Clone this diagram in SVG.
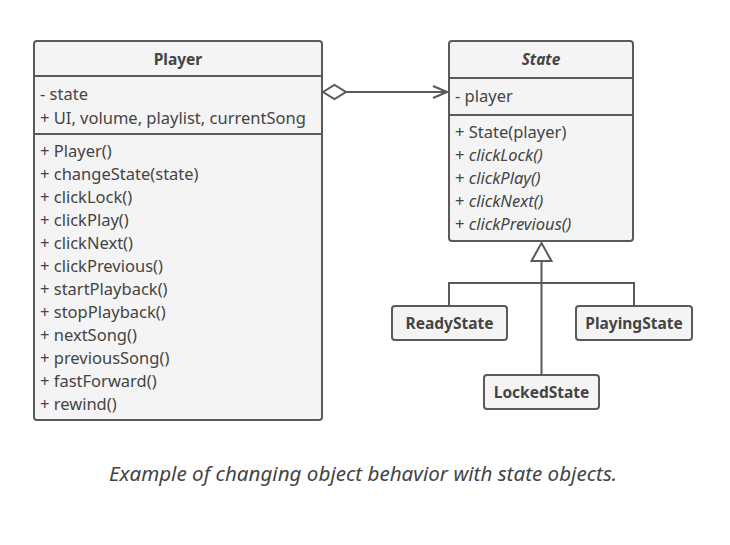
<svg xmlns="http://www.w3.org/2000/svg" width="730" height="545" viewBox="0 0 730 545">
<style>
.box{fill:#f4f4f4;stroke:#5a5a5a;stroke-width:2}
.ln{stroke:#5a5a5a;stroke-width:2;fill:none}
text{font-family:"Noto Sans","Liberation Sans",sans-serif;fill:#444;font-size:16.5px}
.b{font-weight:bold;text-anchor:middle;font-size:15.5px}
.i{font-style:italic}
.cap{font-size:20.6px;font-style:italic;text-anchor:middle;fill:#444}
</style>
<defs>
<marker id="open" markerWidth="16" markerHeight="14" refX="15" refY="7" orient="auto" markerUnits="userSpaceOnUse">
<path d="M1,1 L15,7 L1,13" fill="none" stroke="#5a5a5a" stroke-width="2"/>
</marker>
</defs>
<rect width="730" height="545" fill="#fff"/>
<g id="player">
<rect class="box" x="34" y="41" width="288" height="379" rx="3"/>
<line class="ln" x1="34" y1="76" x2="322" y2="76"/>
<line class="ln" x1="34" y1="134" x2="322" y2="134"/>
<text class="b" x="178" y="65">Player</text>
<text x="40" y="100">- state</text>
<text x="40" y="124">+ UI, volume, playlist, currentSong</text>
<text x="40" y="157">+ Player()</text>
<text x="40" y="180">+ changeState(state)</text>
<text x="40" y="203">+ clickLock()</text>
<text x="40" y="226">+ clickPlay()</text>
<text x="40" y="249">+ clickNext()</text>
<text x="40" y="272">+ clickPrevious()</text>
<text x="40" y="295">+ startPlayback()</text>
<text x="40" y="318">+ stopPlayback()</text>
<text x="40" y="341">+ nextSong()</text>
<text x="40" y="364">+ previousSong()</text>
<text x="40" y="387">+ fastForward()</text>
<text x="40" y="410">+ rewind()</text>
</g>
<g id="state">
<rect class="box" x="449" y="41" width="184" height="200" rx="3"/>
<line class="ln" x1="449" y1="78" x2="633" y2="78"/>
<line class="ln" x1="449" y1="115" x2="633" y2="115"/>
<text class="b i" x="541" y="65">State</text>
<text x="455" y="102">- player</text>
<text x="455" y="138">+ State(player)</text>
<text x="455" y="161">+ <tspan class="i">clickLock()</tspan></text>
<text x="455" y="184">+ <tspan class="i">clickPlay()</tspan></text>
<text x="455" y="207">+ <tspan class="i">clickNext()</tspan></text>
<text x="455" y="230">+ <tspan class="i">clickPrevious()</tspan></text>
</g>
<g id="connectors">
<line class="ln" x1="346" y1="92" x2="447" y2="92" marker-end="url(#open)"/>
<path d="M323,92 L334.5,85 L346,92 L334.5,99 Z" fill="#fff" stroke="#5a5a5a" stroke-width="2"/>
<path class="ln" d="M449,306 V283 H634 V306"/>
<line class="ln" x1="541.5" y1="261" x2="541.5" y2="375"/>
<path d="M541.5,243 L551.5,261 L531.5,261 Z" fill="#fff" stroke="#5a5a5a" stroke-width="2"/>
</g>
<g id="readystate">
<rect class="box" x="392" y="306" width="115" height="34" rx="3"/>
<text class="b" x="449.5" y="329">ReadyState</text>
</g>
<g id="playingstate">
<rect class="box" x="576" y="306" width="116" height="34" rx="3"/>
<text class="b" x="634" y="329">PlayingState</text>
</g>
<g id="lockedstate">
<rect class="box" x="484" y="375" width="115" height="34" rx="3"/>
<text class="b" x="541.5" y="398">LockedState</text>
</g>
<text class="cap" x="363" y="481">Example of changing object behavior with state objects.</text>
</svg>
